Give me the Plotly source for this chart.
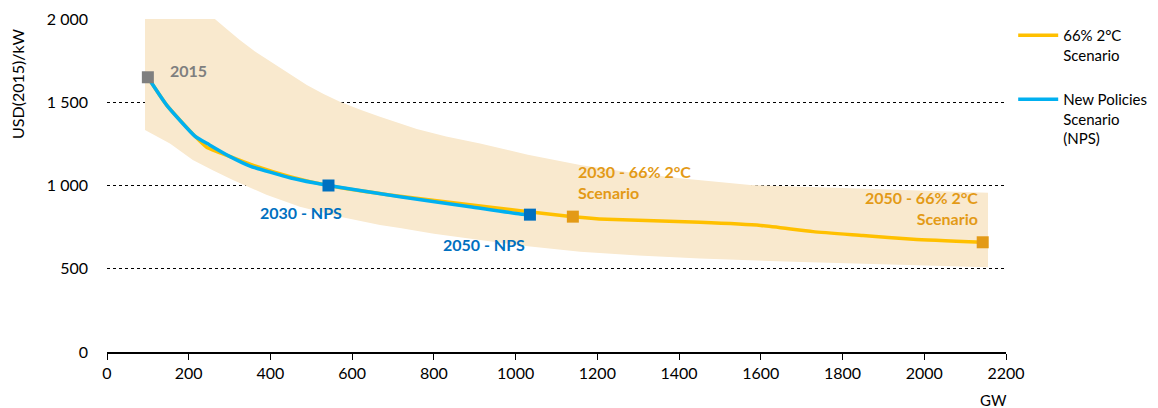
import plotly.graph_objects as go

# ---- data ----
sds_gw = [100, 146, 215, 244, 300, 350, 450, 542, 717, 888, 1011, 1140, 1223, 1451, 1600, 1728, 1850, 1973, 2143]
sds_cost = [1650, 1483, 1297, 1230, 1175, 1128, 1052, 1000, 935, 885, 849, 813, 797, 779, 760, 723, 700, 677, 659]

nps_gw = [100, 146, 215, 250, 300, 350, 450, 542, 717, 888, 1011, 1035]
nps_cost = [1650, 1483, 1297, 1245, 1175, 1117, 1045, 1000, 933, 873, 829, 825]

band_up_gw = [93, 264, 295, 325, 365, 407, 448, 489, 530, 570, 620, 668, 758, 830, 913, 1030, 1158, 1280, 1402, 1574, 1800, 2000, 2156]
band_up = [2000, 2000, 1935, 1874, 1800, 1734, 1666, 1604, 1550, 1503, 1455, 1413, 1340, 1295, 1253, 1185, 1123, 1078, 1043, 1003, 985, 968, 957]
band_lo_gw = [93, 154, 210, 260, 308, 390, 472, 570, 668, 717, 800, 913, 1030, 1158, 1300, 1451, 1700, 1950, 2156]
band_lo = [1333, 1253, 1153, 1090, 1033, 945, 873, 812, 763, 745, 710, 673, 635, 602, 580, 562, 540, 522, 509]

milestone_gw = [100, 542, 1035, 1140, 2143]
milestone_cost = [1650, 1000, 825, 813, 659]
milestone_names = ["2015", "2030 - NPS", "2050 - NPS", "2030 - 66% 2°C<br>Scenario", "2050 - 66% 2°C<br>Scenario"]

y_tickvals = [0, 500, 1000, 1500, 2000]
y_ticktext = ["0", "500", "1 000", "1 500", "2 000"]
x_tickvals = list(range(0, 2201, 200))

# ---- styles ----
FONT = "Lato, 'Open Sans', sans-serif"
YELLOW = "#FFC000"
BLUE = "#00B0F0"
DARKBLUE = "#0070C0"
ORANGE = "#E39A16"
GREY = "#7F7F7F"
BAND = "rgba(249,233,206,1)"
marker_colors = [GREY, DARKBLUE, DARKBLUE, ORANGE, ORANGE]

fig = go.Figure()

# uncertainty band
fig.add_trace(go.Scatter(
    x=band_up_gw + band_lo_gw[::-1],
    y=band_up + band_lo[::-1],
    fill="toself", fillcolor=BAND, line=dict(width=0),
    mode="lines", hoverinfo="skip", showlegend=False,
))

fig.add_trace(go.Scatter(
    x=sds_gw, y=sds_cost, mode="lines",
    line=dict(color=YELLOW, width=3.5, shape="spline", smoothing=0.5),
    name="66% 2°C<br>Scenario", legendgroup="a",
))
fig.add_trace(go.Scatter(
    x=nps_gw, y=nps_cost, mode="lines",
    line=dict(color=BLUE, width=3.5, shape="spline", smoothing=0.5),
    name="New Policies<br>Scenario<br>(NPS)", legendgroup="b",
))

fig.add_trace(go.Scatter(
    x=milestone_gw, y=milestone_cost, mode="markers",
    marker=dict(symbol="square", size=12, color=marker_colors),
    showlegend=False, hoverinfo="skip",
))

# annotations for milestones
ann_specs = [
    # (index, x, y, xanchor, align)
    (0, 149, 1688, "left", "left"),
    (1, 475, 835, "center", "center"),
    (2, 923, 645, "center", "center"),
    (3, 1148, 1021, "left", "left"),
    (4, 2136, 865, "right", "right"),
]
for i, ax, ay, xa, al in ann_specs:
    fig.add_annotation(
        x=ax, y=ay, text="<b>" + milestone_names[i] + "</b>",
        showarrow=False, xanchor=xa, yanchor="middle", align=al,
        font=dict(color=marker_colors[i], size=16, family=FONT),
    )

# axis titles
fig.add_annotation(
    x=1, y=0, xref="paper", yref="paper", text="GW", showarrow=False,
    xanchor="right", yanchor="top", yshift=-37, xshift=3,
    font=dict(size=15, color="#000000", family=FONT),
)
fig.add_annotation(
    x=-0.099, y=0.805, xref="paper", yref="paper", text="USD(2015)/kW", showarrow=False,
    xanchor="center", yanchor="middle", textangle=-90,
    font=dict(size=16, color="#000000", family=FONT),
)

# page body has an 8px margin, so the figure is 8px smaller than the window
fig.update_layout(
    width=1150, height=400,
    margin=dict(l=99, r=152, t=11, b=56, autoexpand=False),
    paper_bgcolor="white", plot_bgcolor="white",
    font=dict(family=FONT, size=16, color="#000000"),
    showlegend=True,
    legend=dict(
        x=1.008, y=1.0, xanchor="left", yanchor="top",
        valign="top", tracegroupgap=22, itemwidth=40,
        font=dict(size=15, family=FONT, color="#000000"),
        bgcolor="rgba(0,0,0,0)",
    ),
    xaxis=dict(
        range=[0, 2200], tickvals=x_tickvals, showgrid=False,
        showline=True, linecolor="#000000", linewidth=1.5,
        ticks="outside", ticklen=6, tickcolor="#000000",
        zeroline=False, fixedrange=True, automargin=False,
    ),
    yaxis=dict(
        range=[0, 2000], tickvals=y_tickvals, ticktext=y_ticktext,
        showgrid=True, gridcolor="#000000", griddash="dot", gridwidth=1,
        zeroline=False, showline=False, ticks="", ticklabelstandoff=18,
        fixedrange=True, automargin=False,
    ),
)

fig.write_html("out.html")
